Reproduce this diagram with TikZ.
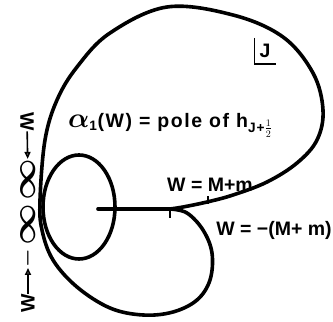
\documentclass[tikz,border=0pt]{standalone}
\usepackage{amsmath}
\usepackage{fontspec}
\setmainfont{Liberation Sans}
\usetikzlibrary{arrows.meta}

\begin{document}
\begin{tikzpicture}[x=1pt,y=1pt,>={Triangle[open,length=7pt,width=6pt]},
  curve/.style={line width=3.6pt,line cap=round,line join=round},
  thinline/.style={line width=1.6pt},
  lbl/.style={font=\fontsize{19.5}{22}\selectfont\bfseries,inner sep=0pt}]
  \useasboundingbox (0,0) rectangle (333,322);
  % contour in the J plane
  \coordinate (branch) at (170,113);
  \coordinate (cut) at (98,113);
  \draw[curve] plot[smooth,tension=0.6] coordinates {(170,113) (183,115) (207,120)
     (233,127) (267,140) (297,159) (317,182) (323,212) (313,249) (283,285)
     (233,307) (167,315) (110,289) (77,255) (57,222) (45,182) (40,122) (42,92)
     (53,62) (77,35) (110,14) (143,7) (173,10) (197,22) (210,42) (212,69)
     (203,92) (187,109) (170,113)};
  \draw[curve] (cut) -- (branch);
  \draw[curve] (79,115) ellipse [x radius=36,y radius=52];
  \draw[thinline] (208,118) -- ++(0,8);
  \draw[thinline] (branch) -- ++(0,-9);
  \node[lbl] (mplus) at (210,137) {W = M+m};
  \node[lbl] (mminus) at (274,92) {W = −(M+ m)};
  \node[lbl,anchor=west] (pole) at (68,197)
     {\addfontfeature{LetterSpace=8}\scalebox{1.35}{$\boldsymbol\alpha$}$_{\text{1}}$(W) = pole of h$_{\text{J+}\frac12}$};
  \node[lbl,inner xsep=5pt,inner ysep=6pt] (jlab) at (265,271) {J};
  \draw[thinline] (jlab.north west) |- (jlab.south east);
  % limits along the imaginary axis
  \node[lbl,rotate=-90] (wtop) at (27,200) {W};
  \node[lbl] (inftop) at (28,142) {\rotatebox{90}{\scalebox{1.75}[1.6]{$\boldsymbol\infty$}}};
  \draw[->,thinline] (wtop) -- (inftop);
  \node[lbl,rotate=90] (wbot) at (28,19) {W};
  \node[lbl,rotate=90] (infbot) at (28,86)
     {$\boldsymbol{-}$\,\raisebox{-2.5pt}{\scalebox{1.75}[1.6]{$\boldsymbol\infty$}}};
  \draw[->,thinline] (wbot) -- (infbot);
\end{tikzpicture}
\end{document}
